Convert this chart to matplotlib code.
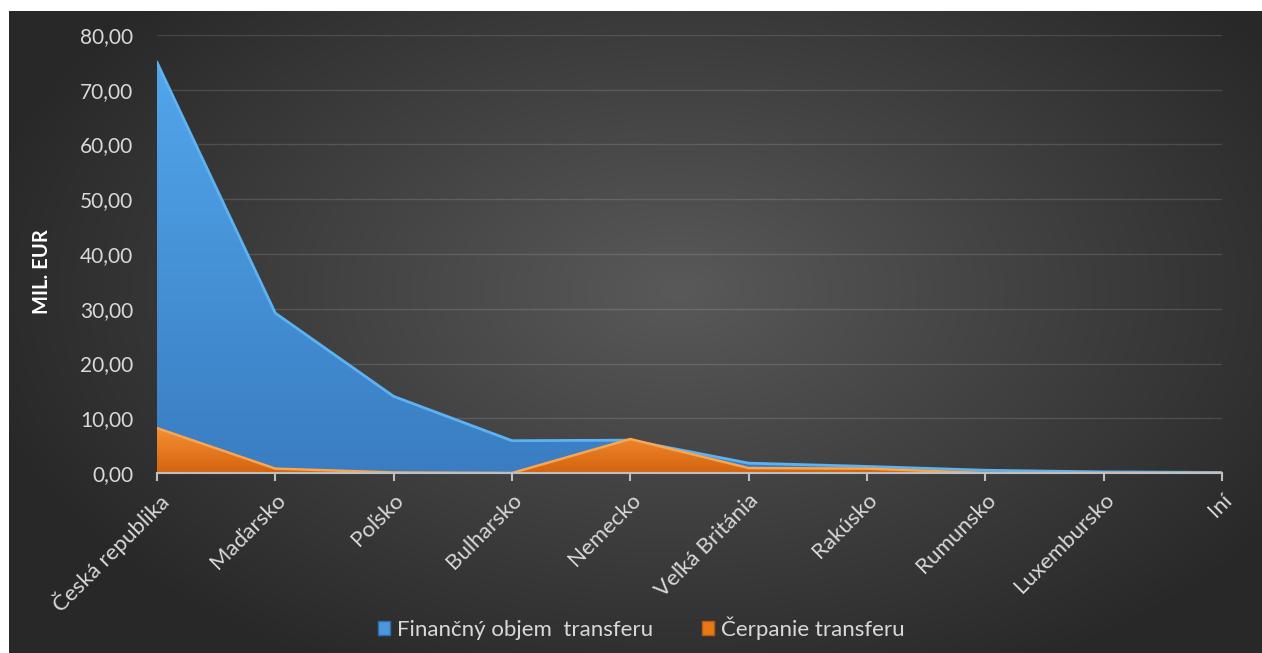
import numpy as np
import matplotlib
matplotlib.use("Agg")
from matplotlib import pyplot as plt
from matplotlib.patches import Patch
from matplotlib.colors import LinearSegmentedColormap

plt.rcParams['font.family'] = ['Lato', 'DejaVu Sans']

countries = ['Česká republika', 'Maďarsko', 'Poľsko', 'Bulharsko', 'Nemecko',
             'Veľká Británia', 'Rakúsko', 'Rumunsko', 'Luxembursko', 'Iní']
objem = [75.0, 29.2, 14.0, 5.9, 6.0, 1.8, 1.2, 0.5, 0.2, 0.1]
cerpanie = [8.2, 0.8, 0.1, 0.0, 6.2, 0.9, 0.8, 0.0, 0.0, 0.0]
yticks = [0, 10, 20, 30, 40, 50, 60, 70, 80]

W, H = 1262, 653
fig = plt.figure(figsize=(W / 100, H / 100), dpi=100, facecolor='white')

# dark radial background of the chart area
bg = fig.add_axes([9 / W, 0, 1 - 9 / W, 1 - 11 / H])
yy, xx = np.mgrid[0:300, 0:600]
d = np.sqrt(((xx - 320) / 340) ** 2 + ((yy - 130) / 200) ** 2)
d = np.clip(d, 0, 1)
shade = 0.35 - 0.19 * d
bg.imshow(np.dstack([shade, shade, shade]), aspect='auto', extent=[0, 1, 0, 1], origin='upper')
bg.set_axis_off()

ax = fig.add_axes([157 / W, 1 - 473 / H, (1222 - 157) / W, (473 - 35) / H])
ax.patch.set_alpha(0)
x = np.arange(len(countries))
xmax = len(countries) - 1


def gradient_area(vals, top_col, bot_col, ytop, z):
    poly = ax.fill_between(x, vals, 0, color=bot_col, lw=0, zorder=z)
    cmap = LinearSegmentedColormap.from_list('g', [bot_col, top_col])
    grad = np.linspace(0, 1, 256).reshape(-1, 1)
    im = ax.imshow(grad, cmap=cmap, aspect='auto', origin='lower',
                   extent=[0, xmax, 0, ytop], zorder=z + 0.1)
    im.set_clip_path(poly.get_paths()[0], transform=ax.transData)


gradient_area(objem, '#52a6ec', '#3a7dc2', 75, 2)
ax.plot(x, objem, color='#5db2f2', lw=2, zorder=3)
gradient_area(cerpanie, '#f48e33', '#d4640f', 8, 4)
ax.plot(x, cerpanie, color='#f8a650', lw=1.8, zorder=5)

ax.set_xlim(0, xmax)
ax.set_ylim(0, 80)
ax.set_yticks(yticks)
ax.set_yticklabels([f'{v:.2f}'.replace('.', ',') for v in yticks], color='#d9d9d9', fontsize=15)
ax.yaxis.grid(True, color='#ffffff', alpha=0.13, lw=1)
ax.set_axisbelow(True)
ax.tick_params(axis='y', length=0, pad=17)

ax.set_xticks(x)
ax.set_xticklabels(countries, rotation=45, ha='right', rotation_mode='anchor',
                   color='#d9d9d9', fontsize=16)
ax.tick_params(axis='x', length=6, width=1.5, color='#bfbfbf', pad=6)

for s in ['top', 'right', 'left']:
    ax.spines[s].set_visible(False)
ax.spines['bottom'].set_color('#bfbfbf')
ax.spines['bottom'].set_linewidth(1.5)
ax.spines['bottom'].set_zorder(6)

fig.text(42 / W, 1 - 272 / H, 'MIL. EUR', rotation=90, color='white',
         fontsize=14.5, fontweight='bold', ha='center', va='center')

handles = [Patch(facecolor='#4a97dc', edgecolor='#2f6fae'),
           Patch(facecolor='#e97817', edgecolor='#b85a10')]
fig.legend(handles, ['Finančný objem  transferu', 'Čerpanie transferu'],
           loc='center', bbox_to_anchor=(0.508, 1 - 628 / H), ncol=2, frameon=False,
           fontsize=16, labelcolor='#d9d9d9', handlelength=0.55, handleheight=0.55,
           handletextpad=0.3, columnspacing=2.2)

fig.savefig('out.png', dpi=100, facecolor='white')
